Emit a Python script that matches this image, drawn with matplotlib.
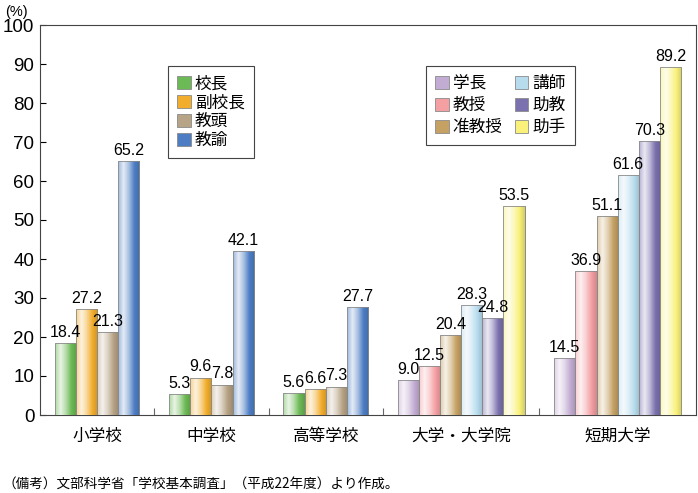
import matplotlib
matplotlib.use("Agg")
import matplotlib.pyplot as plt
import numpy as np
from matplotlib.colors import LinearSegmentedColormap, to_rgb
from matplotlib.patches import Patch

plt.rcParams['font.family'] = ['Liberation Sans', 'Noto Sans CJK JP', 'DejaVu Sans']

groups = ["小学校", "中学校", "高等学校", "大学・大学院", "短期大学"]

school_roles = ["校長", "副校長", "教頭", "教諭"]
school_colors = ["#6cba55", "#f2ad2c", "#b7a385", "#4d7ec4"]
school_values = [
    [18.4, 27.2, 21.3, 65.2],   # 小学校
    [5.3, 9.6, 7.8, 42.1],      # 中学校
    [5.6, 6.6, 7.3, 27.7],      # 高等学校
]

univ_roles = ["学長", "教授", "准教授", "講師", "助教", "助手"]
univ_colors = ["#c3acd3", "#f4a0a3", "#c5a163", "#b7dcee", "#7a71ae", "#f9f17a"]
univ_values = [
    [9.0, 12.5, 20.4, 28.3, 24.8, 53.5],    # 大学・大学院
    [14.5, 36.9, 51.1, 61.6, 70.3, 89.2],   # 短期大学
]

all_values = school_values + univ_values


def grad_cmap(c):
    base = np.array(to_rgb(c))
    white = np.ones(3)
    stops = [base * 0.55 + white * 0.45, white * 0.85 + base * 0.15,
             base * 0.5 + white * 0.5, base, base * 0.85]
    return LinearSegmentedColormap.from_list("g", [tuple(s) for s in stops])


fig = plt.figure(figsize=(6.98, 4.93), dpi=100)
ax = fig.add_axes([40 / 698, 78 / 493, 656 / 698, 390 / 493])

gap = 1.4
start = 0.7
centers = []
seps = []
x = start
for gi, vals in enumerate(all_values):
    colors = school_colors if gi < 3 else univ_colors
    pos = x + 0.5 + np.arange(len(vals))
    bars = ax.bar(pos, vals, width=1.0, color=colors, edgecolor="#8a8a8a",
                  linewidth=0.6, zorder=3)
    for b, c, v in zip(bars, colors, vals):
        bx, by = b.get_x(), b.get_y()
        bw, bh = b.get_width(), b.get_height()
        im = ax.imshow(np.linspace(0, 1, 64).reshape(1, -1), cmap=grad_cmap(c),
                       extent=[bx, bx + bw, by, by + bh], aspect="auto", zorder=3.5)
        im.set_clip_path(b)
        ax.bar(bx + bw / 2, bh, width=bw, fill=False, edgecolor="#8a8a8a",
               linewidth=0.6, zorder=4)
        ax.text(bx + bw / 2, v + 0.8, f"{v:.1f}", ha="center", va="bottom",
                fontsize=11.5, zorder=5)
    centers.append(x + len(vals) / 2)
    x += len(vals)
    if gi < len(all_values) - 1:
        seps.append(x + gap / 2)
        x += gap
x += start

ax.set_xlim(0, x)
ax.set_ylim(0, 100)
ax.set_yticks(range(0, 101, 10))
ax.tick_params(axis="y", direction="in", length=4, labelsize=13.5, pad=4)
ax.set_xticks(seps)
ax.set_xticklabels([])
ax.tick_params(axis="x", direction="in", length=5, color="#666666")
for c, g in zip(centers, groups):
    ax.text(c, -3.3, g, ha="center", va="top", fontsize=12,
            family=["Noto Sans CJK JP", "DejaVu Sans"])
for s in ax.spines.values():
    s.set_color("#444444")
    s.set_linewidth(0.8)


def legend_patches(colors):
    return [Patch(facecolor=c, edgecolor="#8a8a8a", linewidth=0.6) for c in colors]


leg_font = {"family": ["Noto Sans CJK JP"], "size": 12}
leg1 = ax.legend(legend_patches(school_colors), school_roles, loc="upper left",
                 bbox_to_anchor=(128 / 656, 1 - 41 / 390), borderaxespad=0,
                 fancybox=False, edgecolor="#444444", framealpha=1, prop=leg_font,
                 handlelength=0.8, handleheight=0.8, handletextpad=0.25,
                 labelspacing=0.12, borderpad=0.55)
leg1.get_frame().set_linewidth(0.8)
ax.add_artist(leg1)
leg2 = ax.legend(legend_patches(univ_colors), univ_roles, loc="upper left", ncol=2,
                 bbox_to_anchor=(386 / 656, 1 - 41 / 390), borderaxespad=0,
                 fancybox=False, edgecolor="#444444", framealpha=1, prop=leg_font,
                 handlelength=0.8, handleheight=0.8, handletextpad=0.25,
                 labelspacing=0.3, borderpad=0.55, columnspacing=0.75)
leg2.get_frame().set_linewidth(0.8)

fig.text(5 / 698, 1 - 12 / 493, "(%)", fontsize=10.5, va="center", ha="left")
fig.text(3 / 698, 1 - 484 / 493, "（備考）文部科学省「学校基本調査」（平成22年度）より作成。",
         fontsize=9.8, va="center", ha="left", family=["Noto Sans CJK JP"])

fig.savefig("out.png", dpi=100)
